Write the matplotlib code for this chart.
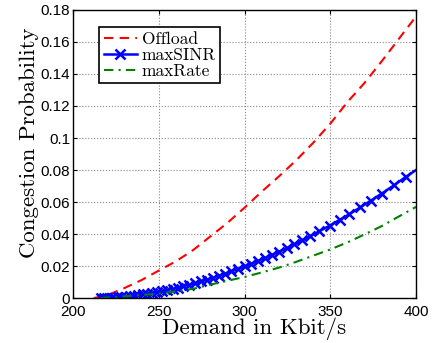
import matplotlib
matplotlib.use("Agg")
import matplotlib.pyplot as plt

# --- data ---
offload_x = [212, 220, 230, 240, 250, 260, 270, 280, 290, 300,
             310, 320, 330, 340, 350, 360, 370, 380, 390, 400]
offload_y = [0.0, 0.0018, 0.0063, 0.0113, 0.0172, 0.0230, 0.0300, 0.0385, 0.0470, 0.0565,
             0.0665, 0.0760, 0.0860, 0.0970, 0.1090, 0.1225, 0.1345, 0.1480, 0.1620, 0.1760]

sinr_x = [216, 218, 220, 222, 224, 226, 228, 230.5, 233, 235.5, 238, 240.5, 243, 246,
          249, 252, 255, 258, 261, 264, 267.5, 271, 274.5, 278, 281.5, 285, 288.5, 292,
          296, 300, 304, 308, 312, 316, 320, 324.5, 329, 333.5, 338, 343.5, 349.5, 355.5,
          361, 367.5, 373.5, 380, 387, 394, 400]
sinr_y = [0.0, 0.0, 0.0001, 0.0002, 0.0003, 0.0005, 0.0007, 0.0009, 0.0012, 0.0015,
          0.0019, 0.0023, 0.0027, 0.0032, 0.0038, 0.0044, 0.0051, 0.0058, 0.0066, 0.0073,
          0.0083, 0.0093, 0.0104, 0.0115, 0.0127, 0.0140, 0.0152, 0.0166, 0.0182, 0.0198,
          0.0215, 0.0233, 0.0251, 0.0270, 0.0290, 0.0312, 0.0336, 0.0360, 0.0385, 0.0417,
          0.0452, 0.0489, 0.0524, 0.0567, 0.0608, 0.0653, 0.0704, 0.0757, 0.0800]

rate_x = [216, 220, 230, 240, 250, 260, 270, 280, 290, 300,
          310, 320, 330, 340, 350, 360, 370, 380, 390, 400]
rate_y = [0.0, 0.0003, 0.0011, 0.0019, 0.0028, 0.0042, 0.0058, 0.0084, 0.0108, 0.0132,
          0.0160, 0.0190, 0.0226, 0.0265, 0.0304, 0.0348, 0.0398, 0.0450, 0.0510, 0.0570]

xticks = [200, 250, 300, 350, 400]
yticks = [0, 0.02, 0.04, 0.06, 0.08, 0.1, 0.12, 0.14, 0.16, 0.18]
ytick_labels = ['0', '0.02', '0.04', '0.06', '0.08', '0.1', '0.12', '0.14', '0.16', '0.18']

serif = ['cmr10', 'DejaVu Serif']
sans = ['Liberation Sans', 'DejaVu Sans']

fig = plt.figure(figsize=(4.38, 3.43), dpi=100)
ax = fig.add_axes([0.167, 0.131, 0.783, 0.840])

ax.plot(offload_x, offload_y, color='red', linestyle=(0, (4.5, 3)), linewidth=1.5, label='Offload')
ax.plot(sinr_x, sinr_y, color='blue', linestyle='-', linewidth=1.8, marker='x',
        markersize=7, markeredgewidth=1.8, markevery=slice(0, -1), label='maxSINR')
ax.plot(rate_x, rate_y, color=(0, 0.5, 0), linestyle=(0, (4.5, 2.5, 1, 2.5)), linewidth=1.5,
        label='maxRate')

ax.set_xlim(200, 400)
ax.set_ylim(0, 0.18)
ax.set_xticks(xticks)
ax.set_xticklabels([str(t) for t in xticks], family=sans, fontsize=11)
ax.set_yticks(yticks)
ax.set_yticklabels(ytick_labels, family=sans, fontsize=11)
ax.tick_params(direction='in', top=True, right=True, length=3, width=0.8)
ax.tick_params(axis='x', pad=5)
ax.tick_params(axis='y', pad=2)
ax.grid(True, linestyle=':', color='#888888', linewidth=0.8)
for s in ax.spines.values():
    s.set_linewidth(1.0)

ax.set_xlabel('Demand in Kbit/s', family=serif, fontsize=16.5, labelpad=-1, x=0.528)
ax.set_ylabel('Congestion Probability', family=serif, fontsize=16.5, labelpad=1, y=0.54)

leg = ax.legend(loc='upper left', bbox_to_anchor=(0.076, 0.941), prop={'family': serif, 'size': 12.5},
                frameon=True, fancybox=False, framealpha=1, edgecolor='black',
                handlelength=1.9, handletextpad=0.3, borderpad=0.25, labelspacing=0.05,
                borderaxespad=0)
leg.get_frame().set_linewidth(1.2)

fig.savefig('out.png', dpi=100)
